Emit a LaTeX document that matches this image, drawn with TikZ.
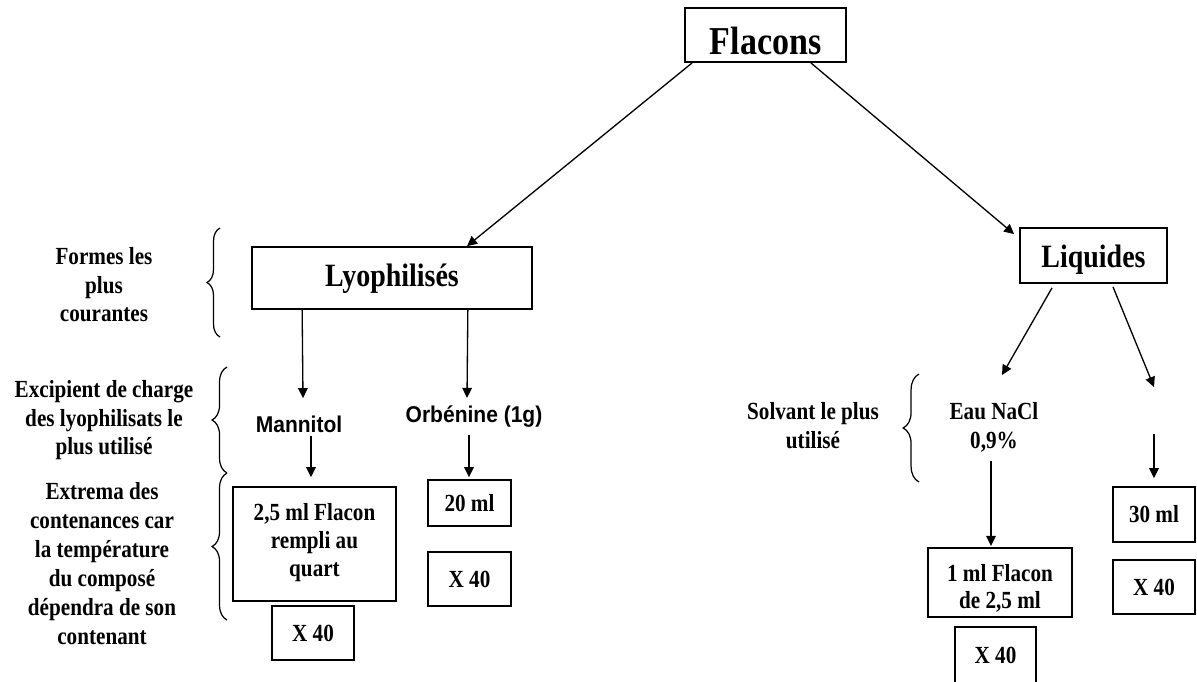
\documentclass[tikz,border=0pt]{standalone}
\usepackage{fontspec}
\usetikzlibrary{arrows.meta,decorations.pathreplacing,calc}
\newfontfamily\serifbd[FakeStretch=0.86]{Liberation Serif}
\newfontfamily\sansbd[FakeStretch=0.92]{Liberation Sans}

\begin{document}
\begin{tikzpicture}[x=0.02cm,y=-0.02cm,
  txt/.style={font=\serifbd\bfseries\fontsize{14}{16.3}\selectfont},
  box/.style={txt, draw, line width=1pt, inner sep=0pt, align=center},
  tallbox/.style={box, font=\serifbd\bfseries\fontsize{14}{15.8}\selectfont,
    execute at begin node=\strut, execute at end node=\strut},
  bigbox/.style={draw, line width=1pt, inner sep=0pt,
    font=\serifbd\bfseries\fontsize{18.5}{22}\selectfont},
  note/.style={txt, align=center, anchor=north, inner sep=0pt,
    execute at begin node=\strut},
  drug/.style={font=\sansbd\bfseries\fontsize{13}{15}\selectfont,
    anchor=base, inner sep=0pt},
  arr/.style={-{Triangle[length=5.7pt,width=5.5pt]}, line width=0.75pt},
  brc/.style={decorate, decoration={brace, amplitude=#1}, line width=0.7pt},
]
\useasboundingbox (0,0) rectangle (1197,681);
\clip (0,0) rectangle (1197,681);

% main boxes
\node[bigbox, font=\serifbd\bfseries\fontsize{22.5}{26}\selectfont,
  minimum width=3.22cm, minimum height=1.08cm,
  text height=22.7pt, text depth=0pt] (flacons) at (765.5,35) {Flacons};
\node[bigbox, minimum width=5.6cm, minimum height=1.24cm,
  text height=13.5pt, text depth=3.3pt] (lyo) at (392,278) {Lyophilisés};
\node[bigbox, minimum width=2.94cm, minimum height=1.10cm,
  text height=15pt, text depth=0.8pt] (liq) at (1093.5,255.5) {Liquides};

% side notes
\node[note] (formes) at (104,247) {Formes les\\plus\\courantes};
\node[note] (excip) at (104,380) {Excipient de charge\\des lyophilisats le\\plus utilisé};
\node[note, font=\serifbd\bfseries\fontsize{14}{16.5}\selectfont] (extrema) at (102,482)
  {Extrema des\\contenances car\\la température\\du composé\\dépendra de son\\contenant};
\node[note] (solv) at (813,402) {Solvant le plus\\utilisé};

% braces
\draw[brc=7.4pt] (220,337) -- (220,228);
\draw[brc=8.5pt] (227,473) -- (227,367);
\draw[brc=8.5pt] (227,620) -- (227,473);
\draw[brc=9pt] (919,482) -- (919,374);

% lyophilised branch
\node[drug] (mannitol) at (299,432) {Mannitol};
\node[drug] (orb) at (474,422) {Orbénine (1g)};
\node[tallbox, minimum width=3.26cm, minimum height=2.28cm] (mbox) at (314.5,544)
  {2,5 ml Flacon\\rempli au\\quart};
\node[box, minimum width=1.64cm, minimum height=1.08cm] (mx) at (313,633) {X 40};
\node[box, minimum width=1.66cm, minimum height=0.92cm] (ml20) at (469.5,503) {20 ml};
\node[box, minimum width=1.66cm, minimum height=1.08cm] (ox) at (469.5,579) {X 40};

% liquid branch
\node[note] (eau) at (994,402) {Eau NaCl\\0,9\%};
\node[box, font=\serifbd\bfseries\fontsize{14}{15.8}\selectfont,
  minimum width=2.88cm, minimum height=1.38cm] (lbox) at (1000,582.5)
  {\rule{0pt}{19pt}1 ml Flacon\\de 2,5 ml\strut};
\node[box, minimum width=1.62cm, minimum height=1.12cm] (lx) at (995.5,655) {X 40};
\node[box, minimum width=1.64cm, minimum height=1.10cm] (ml30) at (1154,514.5) {30 ml};
\node[box, minimum width=1.64cm, minimum height=1.08cm] (rx) at (1154,587) {X 40};
\coordinate (rend) at (1154,387);
\coordinate (rstart) at (1154,434);

% connectors
\draw[arr] ($(flacons.south west)+(8,0)$) -- ($(lyo.north)+(75,0)$);
\draw[arr] ($(flacons.south east)+(-36,0)$) -- ($(liq.north west)+(-5,7)$);
\draw[arr] ($(lyo.south west)+(51,0)$) -- ($(mannitol.north)+(4,-17)$);
\draw[arr] ($(lyo.south east)+(-65,0)$) -- ($(orb.north)+(-7,-7)$);
\draw[arr] ($(mannitol.south)+(12,3)$) -- ($(mbox.north)+(-3.5,-9)$);
\draw[arr] ($(orb.south)+(-5,8)$) -- ($(ml20.north)+(-0.5,-2)$);
\draw[arr] ($(liq.south)+(-41.5,4)$) -- ($(eau.north)+(8,-27)$);
\draw[arr] ($(liq.south)+(19.5,3)$) -- (rend);
\draw[arr] ($(eau.south)+(-3,4)$) -- ($(lbox.north)+(-9,-1)$);
\draw[arr] (rstart) -- ($(ml30.north)+(0,-8)$);
\end{tikzpicture}
\end{document}
